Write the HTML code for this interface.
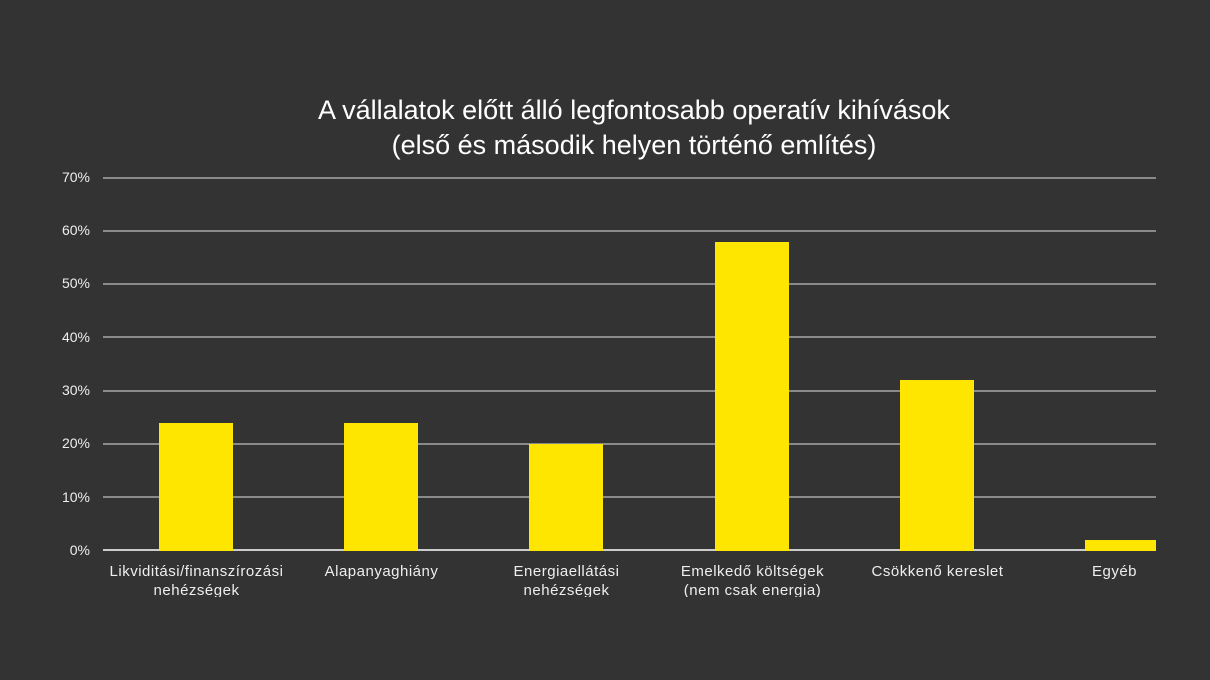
<!DOCTYPE html>
<html><head><meta charset="utf-8"><style>
html,body{margin:0;padding:0;background:#333333;}
body{width:1210px;height:680px;position:relative;overflow:hidden;font-family:"Liberation Sans","DejaVu Sans",sans-serif;color:#fff;}
.t{position:absolute;left:0;width:1268px;text-align:center;font-size:27px;color:#fff;}
.g{position:absolute;left:103px;width:1053px;height:2px;background:#8a8a8a;}
.y{position:absolute;left:40px;width:50px;text-align:right;font-size:14px;color:#eee;}
.b{position:absolute;background:#ffe600;width:74px;}
.c{position:absolute;top:562px;width:185px;height:35px;overflow:hidden;text-align:center;font-size:15px;letter-spacing:0.5px;line-height:19px;color:#eee;white-space:nowrap;}
</style></head><body>
<div class="t" style="top:95px">A vállalatok előtt álló legfontosabb operatív kihívások</div>
<div class="t" style="top:130px">(első és második helyen történő említés)</div>

<div class="g" style="top:177px"></div><div class="y" style="top:169px">70%</div>
<div class="g" style="top:230px"></div><div class="y" style="top:222px">60%</div>
<div class="g" style="top:283px"></div><div class="y" style="top:275px">50%</div>
<div class="g" style="top:336px"></div><div class="y" style="top:329px">40%</div>
<div class="g" style="top:390px"></div><div class="y" style="top:382px">30%</div>
<div class="g" style="top:443px"></div><div class="y" style="top:435px">20%</div>
<div class="g" style="top:496px"></div><div class="y" style="top:489px">10%</div>
<div class="g" style="top:549px;background:#ccc"></div><div class="y" style="top:542px">0%</div>

<div class="b" style="left:159px;top:423px;height:128px"></div>
<div class="b" style="left:344px;top:423px;height:128px"></div>
<div class="b" style="left:529px;top:444px;height:107px"></div>
<div class="b" style="left:715px;top:242px;height:309px"></div>
<div class="b" style="left:900px;top:380px;height:171px"></div>
<div class="b" style="left:1085px;top:540px;height:11px;width:71px"></div>

<div class="c" style="left:104px">Likviditási/finanszírozási<br>nehézségek</div>
<div class="c" style="left:289px">Alapanyaghiány</div>
<div class="c" style="left:474px">Energiaellátási<br>nehézségek</div>
<div class="c" style="left:660px">Emelkedő költségek<br>(nem csak energia)</div>
<div class="c" style="left:845px">Csökkenő kereslet</div>
<div class="c" style="left:1022px">Egyéb</div>
</body></html>
